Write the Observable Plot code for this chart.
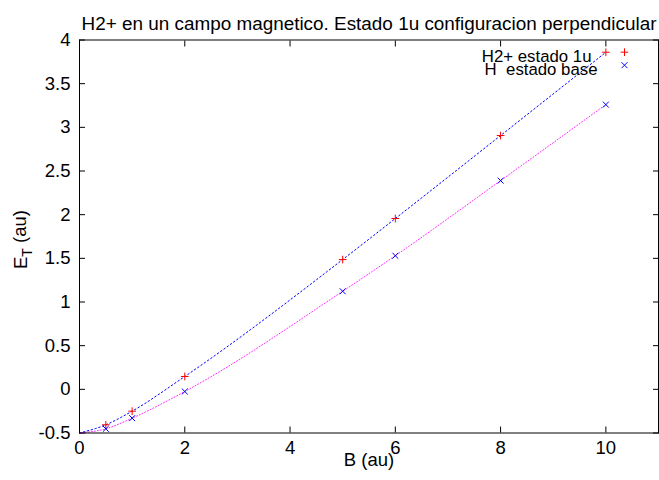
<!DOCTYPE html>
<html><head><meta charset="utf-8">
<script src="https://cdn.jsdelivr.net/npm/d3@7"></script>
<script src="https://cdn.jsdelivr.net/npm/@observablehq/plot@0.6"></script>
<style>
body{margin:0;background:#fff;}
#chart svg{display:block;}
</style></head><body><div id="chart"></div>
<script>
const title = "H2+ en un campo magnetico. Estado 1u configuracion perpendicular";
const xLabel = "B (au)";
const yLabelMain = "E";
const yLabelSub = "T";
const yLabelRest = " (au)";
const seriesNames = ["H2+ estado 1u", "H  estado base"];
const B = [0.5, 1, 2, 5, 6, 8, 10];
const energyH2 = [-0.406, -0.25, 0.147, 1.486, 1.956, 2.906, 3.86];
const energyH = [-0.452, -0.33, -0.025, 1.123, 1.53, 2.39, 3.26];
const fitStartB = 0;
const fitStartE = -0.5;
const xTicks = [0, 2, 4, 6, 8, 10];
const yTicks = [-0.5, 0, 0.5, 1, 1.5, 2, 2.5, 3, 3.5, 4];

const ptsH2 = B.map((b, i) => ({b, e: energyH2[i]}));
const ptsH = B.map((b, i) => ({b, e: energyH[i]}));
const fitH2 = [{b: fitStartB, e: fitStartE}, ...ptsH2];
const fitH = [{b: fitStartB, e: fitStartE}, ...ptsH];

const font = "'Liberation Sans', Arial, sans-serif";
const fs = 18.5;
const fmt = d => String(d);

const plot = Plot.plot({
  width: 659,
  height: 480,
  marginLeft: 79,
  marginRight: 1,
  marginTop: 39.5,
  marginBottom: 47.5,
  style: {fontFamily: font, fontSize: fs + "px", color: "#000", background: "#fff"},
  x: {domain: [0, 11]},
  y: {domain: [-0.5, 4]},
  marks: [
    Plot.axisX(xTicks, {anchor: "bottom", tickSize: -6, tickPadding: 13.5, tickFormat: fmt, label: null, fontSize: fs}),
    Plot.axisX(xTicks, {anchor: "top", tickSize: -6, tickFormat: () => "", label: null}),
    Plot.axisY(yTicks, {anchor: "left", tickSize: -6, tickPadding: 15, tickFormat: fmt, label: null, fontSize: fs}),
    Plot.axisY(yTicks, {anchor: "right", tickSize: -6, tickFormat: () => "", label: null}),
    Plot.line(fitH2, {x: "b", y: "e", stroke: "#0000ff", strokeWidth: 1, strokeDasharray: "1.5,2.5", curve: "monotone-x"}),
    Plot.line(fitH, {x: "b", y: "e", stroke: "#ff00ff", strokeWidth: 1, strokeOpacity: 0.85, strokeDasharray: "1,2", curve: "monotone-x"}),
    Plot.dot(ptsH2, {x: "b", y: "e", symbol: "plus", r: 2.6, stroke: "#ff0000", strokeWidth: 1}),
    Plot.dot(ptsH, {x: "b", y: "e", symbol: "times", r: 2.8, stroke: "#0000ff", strokeWidth: 1}),
    Plot.frame({stroke: "#000", strokeWidth: 1}),
    Plot.text([title], {text: d => d, frameAnchor: "top", dy: -23.5, fontSize: 18.9}),
    Plot.text([xLabel], {text: d => d, frameAnchor: "bottom", dy: 32.5, fontSize: fs}),
    Plot.text([yLabelMain + yLabelSub + yLabelRest], {text: d => d, frameAnchor: "left", textAnchor: "middle", dx: -58, dy: 3, rotate: -90, fontSize: fs}),
    Plot.text([seriesNames[0]], {text: d => d, frameAnchor: "top-right", textAnchor: "end", dx: -67, dy: 10.5, fontSize: 16.8}),
    Plot.text([seriesNames[1]], {text: d => d, frameAnchor: "top-right", textAnchor: "end", dx: -61, dy: 23.5, fontSize: 16.8}),
    Plot.dot([seriesNames[0]], {frameAnchor: "top-right", dx: -34, dy: 12.2, symbol: "plus", r: 2.6, stroke: "#ff0000", strokeWidth: 1}),
    Plot.dot([seriesNames[1]], {frameAnchor: "top-right", dx: -34, dy: 25.2, symbol: "times", r: 2.8, stroke: "#0000ff", strokeWidth: 1})
  ]
});
document.getElementById("chart").appendChild(plot);

// subscript for the y label
d3.select(plot).selectAll("text").each(function() {
  if (this.textContent === yLabelMain + yLabelSub + yLabelRest) {
    const t = d3.select(this);
    t.text(null);
    t.append("tspan").text(yLabelMain);
    t.append("tspan").attr("font-size", "14px").attr("dy", "0.3em").text(yLabelSub);
    t.append("tspan").attr("dy", "-0.3em").text(yLabelRest);
  }
});
</script>
</body></html>
